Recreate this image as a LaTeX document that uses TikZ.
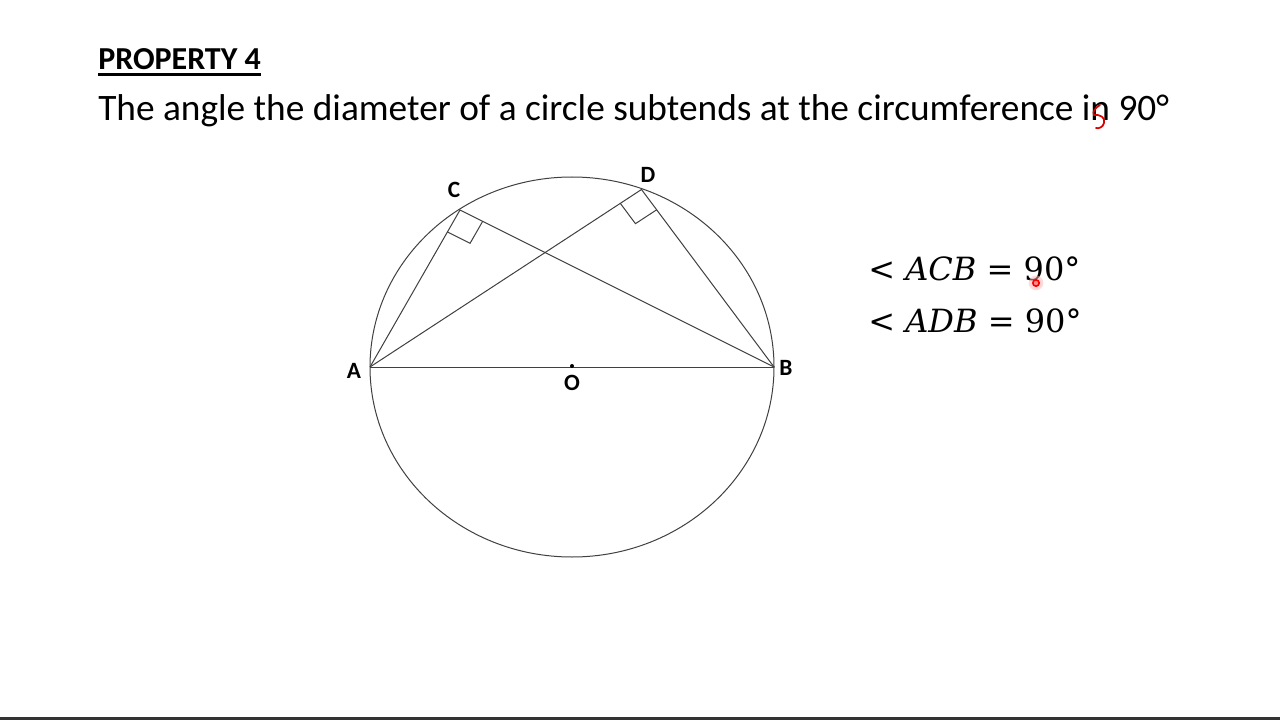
\documentclass[tikz,border=0pt]{standalone}
\usepackage{fontspec}
\setmainfont{Carlito}
\newfontfamily\eqfont{DejaVu Serif}
\usetikzlibrary{calc}
\newcommand{\eqsp}{\hspace{0.32em}}
\begin{document}
\begin{tikzpicture}[x=0.75pt,y=-0.75pt,
  geo/.style={draw=black!75, line width=0.75pt},
  lbl/.style={font=\fontsize{17.5}{20}\selectfont\bfseries, inner sep=0pt},
  eqn/.style={font=\fontsize{24}{28}\selectfont\eqfont, inner sep=0pt, anchor=base west},
  ann/.style={draw=red!85!black, line width=1.3pt, line cap=round}]
\useasboundingbox (0,0) rectangle (1280,720);
\fill[white] (0,0) rectangle (1280,720);
\fill[black!80] (0,717) rectangle (1280,720);
% title
\node[anchor=base west, inner sep=0pt, font=\fontsize{24}{28}\selectfont\bfseries] (title) at (98,69.5) {PROPERTY 4};
\draw[line width=1.6pt] ($(title.base west)+(0,5)$) -- ($(title.base east)+(0,5)$);
\node[anchor=base west, inner sep=0pt, font=\fontsize{28}{32}\selectfont] (stmt) at (98,121) {The angle the diameter of a circle subtends at the circumference in 90°};
% geometry
\coordinate (O) at (572,367);
\coordinate (A) at (370,367);
\coordinate (B) at (774,367);
\coordinate (C) at (460,210);
\coordinate (D) at (641.5,189.5);
\draw[geo] (O) ellipse [x radius=151.5pt, y radius=142.5pt];
\draw[geo] (A) -- (B);
\draw[geo] (A) -- (C) -- (B);
\draw[geo] (A) -- (D) -- (B);
\draw[geo] ($(C)!19pt!(A)$) -- ($(C)!19pt!(A)+(C)!19pt!(B)-(C)$) -- ($(C)!19pt!(B)$);
\draw[geo] ($(D)!19pt!(A)$) -- ($(D)!19pt!(A)+(D)!19pt!(B)-(D)$) -- ($(D)!19pt!(B)$);
\fill[black] (572,366) circle (1.5pt);
\node[lbl] (lC) at (454,190) {C};
\node[lbl] (lD) at (648,175) {D};
\node[lbl] (lA) at (354,371) {A};
\node[lbl] (lB) at (786,368) {B};
\node[lbl] (lO) at (572,383) {O};
% equations
\node[eqn] (e1) at (868,280) {<\eqsp\textit{ACB}\eqsp=\eqsp90°};
\node[eqn] (e2) at (868,332) {<\eqsp\textit{ADB}\eqsp=\eqsp90°};
% annotations
\draw[ann] (1100,105) .. controls (1095,108) and (1092,112) .. (1094,115) .. controls (1100,114) and (1106,118) .. (1104,123) .. controls (1103,127) and (1099,129) .. (1096,128);
\fill[red!30, opacity=0.5] (1036,283) circle (5.5pt);
\draw[red, line width=1.2pt, fill=red!45] (1036,283) circle (2.4pt);
\end{tikzpicture}
\end{document}
